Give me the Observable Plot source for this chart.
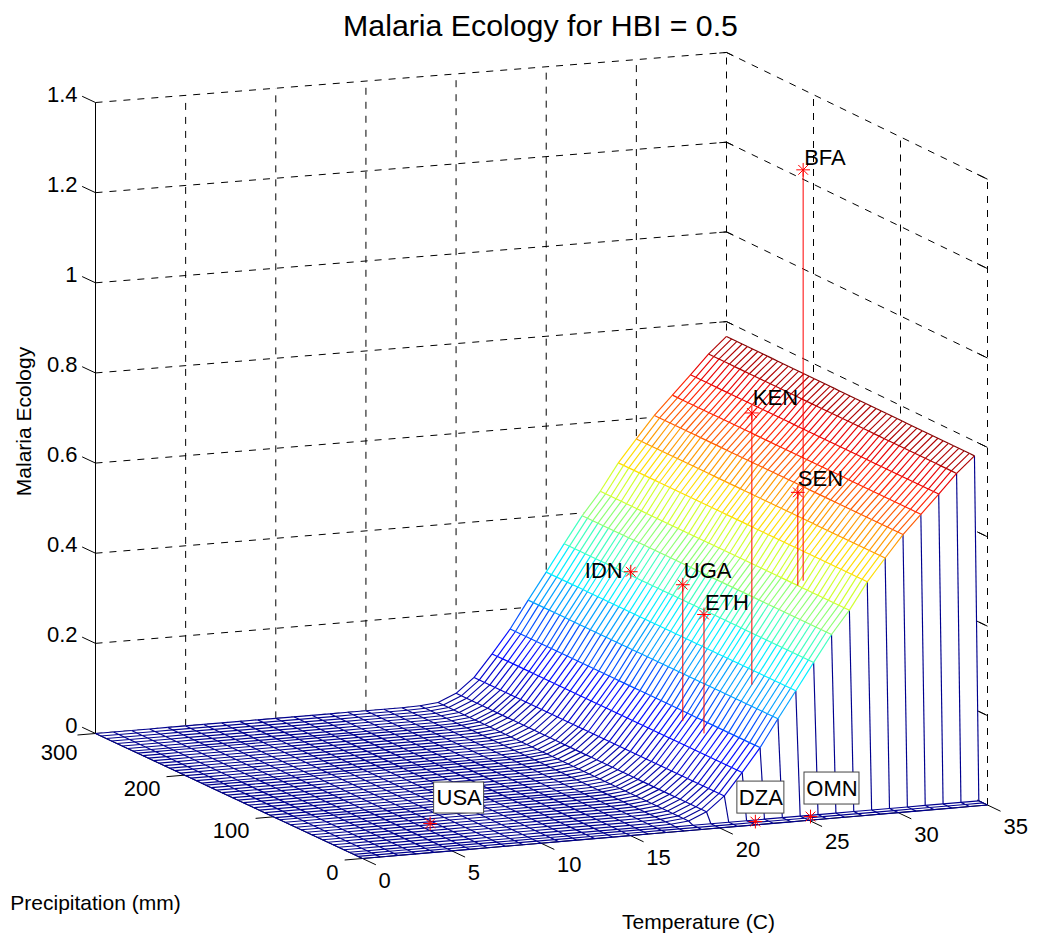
<!DOCTYPE html>
<html>
<head>
<meta charset="utf-8">
<script src="https://cdn.jsdelivr.net/npm/d3@7"></script>
<script src="https://cdn.jsdelivr.net/npm/@observablehq/plot@0.6"></script>
<style>
html,body{margin:0;padding:0;background:#fff;}
svg{display:block;}
</style>
</head>
<body>
<div id="chart"></div>
<script>
// ---- data ----
const temperatureGrid = [0,1,2,3,4,5,6,7,8,9,10,11,12,13,14,15,16,17,18,19,20,21,22,23,24,25,26,27,28,29,30,31,32,33,34,35];
const ecologyByTemperature = [0,0,0,0,0,0,0,0,0,0,0,0,0,0,0,0,0,0,0.001,0.005,0.022,0.054,0.103,0.155,0.216,0.275,0.335,0.394,0.445,0.505,0.555,0.604,0.646,0.688,0.731,0.767];
const precipitationGrid = [0,5,10,15,21,27,33,39,45,51,57,63,69,75,81,87,93,98,104,110,116,122,128,134,140,146,152,158,164,170,176,181,187,193,199,205,211,217,223,229,235,241,247,253,258,264,270,276,282,288,294,300];
const wetShare = [0,0,0,1,1,1,1,1,1,1,1,1,1,1,1,1,1,1,1,1,1,1,1,1,1,1,1,1,1,1,1,1,1,1,1,1,1,1,1,1,1,1,1,1,1,1,1,1,1,1,1,1];

const countries       = ["BFA","KEN","SEN","UGA","ETH","IDN","USA","DZA","OMN"];
const countryTemp     = [28.2, 24.6, 28.0, 22.7, 22.66, 26.0, 6.73, 22.33, 25.45];
const countryPrecip   = [72, 57, 74, 97, 72, 224, 59.3, 6.7, 7.4];
const countryEcology  = [1.374, 0.857, 0.653, 0.443, 0.40, 0.343, 0, 0, 0];
const countrySurface  = [0.457, 0.251, 0.445, 0.139, 0.135, 0.335, 0, 0, 0];

const zTicks = [0,0.2,0.4,0.6,0.8,1,1.2,1.4];
const zTickLabels = ["0","0.2","0.4","0.6","0.8","1","1.2","1.4"];
const tTicks = [0,5,10,15,20,25,30,35];
const pTicks = [0,100,200,300];

const titleText = "Malaria Ecology for HBI = 0.5";

// ---- view of the box: where the floor corners and the height scale land ----
const view = {
  front:[362,858], right:[987,804.5], left:[95,733], back:[726,680],
  zFront:451, zRight:447, zLeft:450.7, zBack:448.6
};
function project(t,p,z=0){
  const u=t/35, v=p/300;
  const mix=(a,b,c,d)=>(1-u)*(1-v)*a+u*(1-v)*b+(1-u)*v*c+u*v*d;
  const x=mix(view.front[0],view.right[0],view.left[0],view.back[0]);
  const y=mix(view.front[1],view.right[1],view.left[1],view.back[1]);
  const s=mix(view.zFront,view.zRight,view.zLeft,view.zBack);
  return [x,y-z*s];
}
const seg=(a,b,extra={})=>({x1:a[0],y1:a[1],x2:b[0],y2:b[1],...extra});

// surface
const Z=(i,j)=>ecologyByTemperature[i]*wetShare[j];
const nT=temperatureGrid.length,nP=precipitationGrid.length;
const P3=(i,j)=>project(temperatureGrid[i],precipitationGrid[j],Z(i,j));
const quads=[],edges=[];
for(let j=nP-2;j>=0;j--){
  for(let i=nT-2;i>=0;i--){
    const id=i+"_"+j;
    [[i,j],[i+1,j],[i+1,j+1],[i,j+1],[i,j]].forEach(([a,b])=>{
      const q=P3(a,b);quads.push({id,x:q[0],y:q[1]});
    });
  }
}
for(let j=0;j<nP;j++){
  for(let i=0;i<nT;i++){
    if(i<nT-1) edges.push(seg(P3(i,j),P3(i+1,j),{v:Z(i,j)}));
    if(j<nP-1) edges.push(seg(P3(i,j),P3(i,j+1),{v:Z(i,j)}));
  }
}

// grid on the walls
const dashed=[];
zTicks.forEach(z=>{
  dashed.push(seg(project(0,300,z),project(35,300,z)));
  dashed.push(seg(project(35,300,z),project(35,0,z)));
});
tTicks.filter(t=>t>0).forEach(t=>dashed.push(seg(project(t,300,0),project(t,300,1.4))));
pTicks.filter(p=>p<300).forEach(p=>dashed.push(seg(project(35,p,0),project(35,p,1.4))));

// axes and ticks
const axisLines=[
  seg(project(0,0),project(35,0)),
  seg(project(0,0),project(0,300)),
  seg(project(0,300,0),project(0,300,1.4))
];
const backTicks=[
  ...zTicks.map(z=>seg(project(35,300,z),project(34.6,300,z))),
  ...zTicks.map(z=>seg(project(35,300,z),project(35,292,z)))
];
const ticks=[
  ...tTicks.map(t=>seg(project(t,0),project(t,-15))),
  ...pTicks.map(p=>seg(project(0,p),project(-1,p))),
  ...zTicks.map(z=>seg(project(0,300,z),project(0,315,z))),
  ...zTicks.map(z=>seg(project(35,0,z),project(35,12,z)))
];

// countries
const pts=countries.map((c,k)=>{
  const m=project(countryTemp[k],countryPrecip[k],countryEcology[k]);
  const b=project(countryTemp[k],countryPrecip[k],countrySurface[k]);
  return {c,x:m[0],y:m[1],bx:b[0],by:b[1]};
});
const byName=Object.fromEntries(pts.map(d=>[d.c,d]));
const plainOffset={BFA:[1,-12],KEN:[1,-15],SEN:[0,-13],UGA:[1,-14],ETH:[1,-12]};
const plain=Object.keys(plainOffset).map(c=>({c,x:byName[c].x+plainOffset[c][0],y:byName[c].y+plainOffset[c][1]}));
const idnLabel={c:"IDN",x:byName.IDN.x-8,y:byName.IDN.y-1};
const boxOffset={USA:[4,54,-41,-10],DZA:[-18,29,-40,-8],OMN:[-6,49,-44,-12]};
const boxes=Object.keys(boxOffset).map(c=>{
  const o=boxOffset[c],d=byName[c];
  return {c,x1:d.x+o[0],x2:d.x+o[1],y1:d.y+o[2],y2:d.y+o[3]};
});

const FONT="Liberation Sans, Arial, sans-serif";
const zMax=0.767;
const jetStops=[0,0.125,0.375,0.625,0.875,1];
const jetColors=["#00008f","#0000ff","#00ffff","#ffff00","#ff0000","#800000"];

const chart=Plot.plot({
  width:1037,height:939,margin:0,
  style:{fontFamily:FONT,background:"#fff",color:"#000"},
  x:{type:"linear",domain:[0,1037],range:[0,1037],axis:null},
  y:{type:"linear",domain:[0,939],range:[0,939],axis:null},
  color:{type:"linear",domain:jetStops.map(t=>t*zMax),range:jetColors,interpolate:"rgb"},
  marks:[
    Plot.link(dashed,{x1:"x1",y1:"y1",x2:"x2",y2:"y2",stroke:"#000",strokeWidth:1,strokeDasharray:"7,7"}),
    Plot.link(backTicks,{x1:"x1",y1:"y1",x2:"x2",y2:"y2",stroke:"#000",strokeWidth:1}),
    Plot.line(quads,{x:"x",y:"y",z:"id",fill:"white",stroke:"white",strokeWidth:0.6}),
    Plot.link(axisLines,{x1:"x1",y1:"y1",x2:"x2",y2:"y2",stroke:"#000",strokeWidth:1}),
    Plot.link(ticks,{x1:"x1",y1:"y1",x2:"x2",y2:"y2",stroke:"#000",strokeWidth:1}),
    Plot.link(edges,{x1:"x1",y1:"y1",x2:"x2",y2:"y2",stroke:"v",strokeWidth:1.15}),
    Plot.link(pts,{x1:"x",y1:"y",x2:"bx",y2:"by",stroke:"#ff0000",strokeWidth:1}),
    Plot.dot(pts,{x:"x",y:"y",symbol:"plus",r:4.5,stroke:"#ff0000",strokeWidth:1}),
    Plot.dot(pts,{x:"x",y:"y",symbol:"times",r:4.5,stroke:"#ff0000",strokeWidth:1}),
    Plot.rect(boxes,{x1:"x1",x2:"x2",y1:"y1",y2:"y2",fill:"white",stroke:"#444",strokeWidth:1}),
    Plot.text(boxes,{x:d=>(d.x1+d.x2)/2,y:d=>(d.y1+d.y2)/2,text:"c",fontSize:22,fill:"#000"}),
    Plot.text(plain,{x:"x",y:"y",text:"c",textAnchor:"start",fontSize:22,fill:"#000"}),
    Plot.text([idnLabel],{x:"x",y:"y",text:"c",textAnchor:"end",fontSize:22,fill:"#000"}),
    Plot.text(zTicks,{x:()=>77,y:z=>project(0,300,z)[1]-8,text:(z,i)=>zTickLabels[i],textAnchor:"end",fontSize:22,fill:"#000"}),
    Plot.text(tTicks,{x:t=>project(t,0)[0]+16,y:t=>project(t,0)[1]+22,text:t=>String(t),textAnchor:"start",fontSize:22,fill:"#000"}),
    Plot.text(pTicks,{x:p=>project(0,p)[0]-(p===300?18:24),y:p=>project(0,p)[1]+(p===300?19:14),text:p=>String(p),textAnchor:"end",fontSize:22,fill:"#000"}),
    Plot.text([titleText],{x:()=>540,y:()=>26,text:d=>d,fontSize:30.3,fill:"#000"}),
    Plot.text(["Precipitation (mm)"],{x:()=>95,y:()=>903,text:d=>d,fontSize:21,fill:"#000"}),
    Plot.text(["Temperature (C)"],{x:()=>698,y:()=>922,text:d=>d,fontSize:21,fill:"#000"}),
    Plot.text(["Malaria Ecology"],{x:()=>24,y:()=>421,text:d=>d,rotate:-90,fontSize:21,fill:"#000"})
  ]
});
document.getElementById("chart").appendChild(chart);
</script>
</body>
</html>
